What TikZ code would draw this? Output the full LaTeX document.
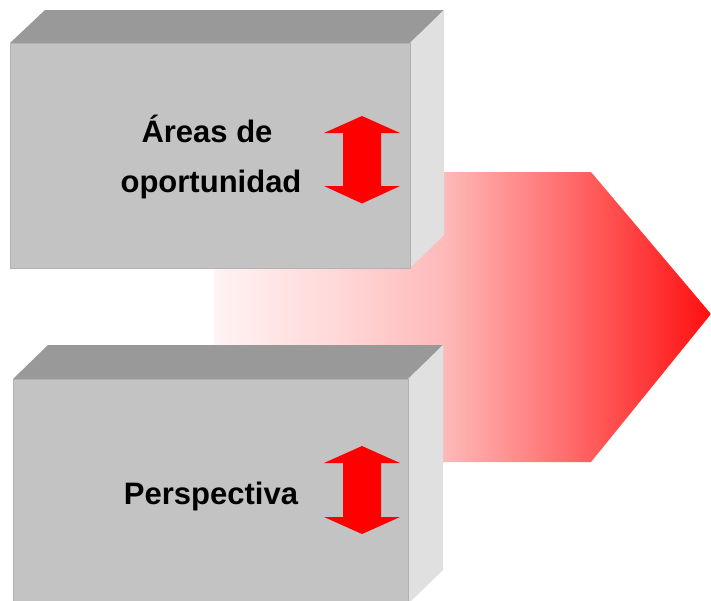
\documentclass[tikz,border=0pt]{standalone}
\usepackage{fontspec}
\setmainfont{Liberation Sans}
\definecolor{frontgray}{RGB}{195,195,195}
\definecolor{topgray}{RGB}{153,153,153}
\definecolor{sidegray}{RGB}{224,224,224}
\definecolor{edgegray}{RGB}{178,178,178}
\definecolor{arA}{RGB}{255,243,243}
\definecolor{arB}{RGB}{255,215,215}
\definecolor{arC}{RGB}{255,185,185}
\definecolor{arD}{RGB}{255,125,125}
\definecolor{arE}{RGB}{255,15,15}
\definecolor{updownred}{RGB}{255,0,0}
\pgfdeclarehorizontalshading{redarrow}{100bp}{color(0bp)=(arA); color(25bp)=(arA); color(37.68bp)=(arB); color(48.24bp)=(arC); color(57.8bp)=(arD); color(75bp)=(arE); color(100bp)=(arE)}
\begin{document}
\begin{tikzpicture}[x=1pt,y=-1pt,
  frontface/.style={fill=frontgray, draw=edgegray, line width=1pt},
  topface/.style={fill=topgray},
  sideface/.style={fill=sidegray},
  updown/.style={fill=updownred},
  bigarrow/.style={shading=redarrow},
  boxlabel/.style={font=\bfseries\fontsize{31}{37}\selectfont, inner sep=0pt, anchor=base, text=black}]
\useasboundingbox (0,0) rectangle (711,600);
\fill[white] (0,0) rectangle (711,600);
% big shaded arrow
\shade[bigarrow] (214,172) -- (591,172) -- (711,314) -- (591,462) -- (214,462) -- cycle;
% top box
\fill[topface] (10,43) -- (45,10) -- (444,10) -- (410,43) -- cycle;
\fill[sideface] (410,43) -- (444,10) -- (444,235) -- (410,268) -- cycle;
\filldraw[frontface] (10,43) rectangle (410,268);
% bottom box
\fill[topface] (13,379) -- (48,345) -- (443,345) -- (408,379) -- cycle;
\fill[sideface] (408,379) -- (443,345) -- (443,570) -- (408,604) -- cycle;
\filldraw[frontface] (13,379) rectangle (408,604);
% double arrows
\fill[updown] (362,116) -- (400,133) -- (381,133) -- (381,186) -- (400,186) -- (362,203.5) -- (324,186) -- (343,186) -- (343,133) -- (324,133) -- cycle;
\fill[updown] (362,446) -- (400,463) -- (381,463) -- (381,517) -- (400,517) -- (362,534) -- (324,517) -- (343,517) -- (343,463) -- (324,463) -- cycle;
% labels
\node[boxlabel] (areas) at (207,142.3) {Áreas de};
\node[boxlabel] (oport) at (211,192.3) {oportunidad};
\node[boxlabel] (persp) at (211,504) {Perspectiva};
\end{tikzpicture}
\end{document}
